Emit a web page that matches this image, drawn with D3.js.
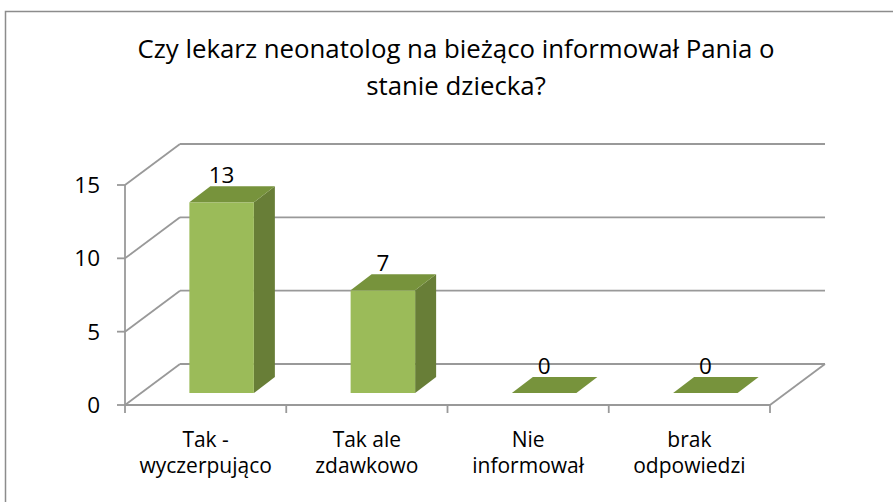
<!DOCTYPE html>
<html><head><meta charset="utf-8">
<script src="https://cdn.jsdelivr.net/npm/d3@7"></script>
<style>body{margin:0;background:#fff}svg{display:block}text{font-family:"Open Sans",sans-serif;fill:#000}</style>
</head><body>
<svg id="c" width="893" height="502"></svg>
<script>
const titleLines = ["Czy lekarz neonatolog na bieżąco informował Pania o", "stanie dziecka?"];
const categories = ["Tak - wyczerpująco", "Tak ale zdawkowo", "Nie informował", "brak odpowiedzi"];
const categoryLines = [["Tak -", "wyczerpująco"], ["Tak ale", "zdawkowo"], ["Nie", "informował"], ["brak", "odpowiedzi"]];
const values = [13, 7, 0, 0];
const yTicks = [0, 5, 10, 15];

const svg = d3.select("#c");
const gridColor = "#999999";
// 3D geometry
const wallDX = 55, wallDY = -41;   // depth of the floor/back wall
const barOffX = 16, barOffY = -12;  // bar front plane offset
const barDX = 21, barDY = -16;      // bar depth

const x = d3.scaleBand().domain(categories).range([125, 770]).paddingInner(0).paddingOuter(0);
const y = d3.scaleLinear().domain([0, 15]).range([405, 185]);

// frame
svg.append("rect").attr("x", 5.5).attr("y", 11.5).attr("width", 1000).attr("height", 1000)
  .attr("fill", "none").attr("stroke", "#8c8c8c").attr("stroke-width", 1.5);

// title
const title = svg.append("g");
titleLines.forEach((t, i) => {
  title.append("text").attr("x", 456).attr("y", 58 + i * 37).attr("text-anchor", "middle")
    .attr("font-size", 25.8).text(t);
});

const grid = svg.append("g").attr("stroke", gridColor).attr("stroke-width", 1.8).attr("fill", "none");
// back wall gridlines and side wall diagonals
yTicks.forEach(t => {
  const yy = y(t);
  grid.append("line").attr("x1", x.range()[0] + wallDX).attr("x2", x.range()[1] + wallDX)
    .attr("y1", yy + wallDY).attr("y2", yy + wallDY);
  grid.append("line").attr("x1", x.range()[0]).attr("x2", x.range()[0] + wallDX)
    .attr("y1", yy).attr("y2", yy + wallDY);
});
// floor front line and right diagonal
grid.append("line").attr("x1", x.range()[0]).attr("x2", x.range()[1]).attr("y1", y(0)).attr("y2", y(0));
grid.append("line").attr("x1", x.range()[1]).attr("x2", x.range()[1] + wallDX).attr("y1", y(0)).attr("y2", y(0) + wallDY);
// y axis line
grid.append("line").attr("x1", x.range()[0]).attr("x2", x.range()[0]).attr("y1", y(15)).attr("y2", y(0));
// y ticks
yTicks.forEach(t => {
  grid.append("line").attr("x1", x.range()[0] - 8).attr("x2", x.range()[0]).attr("y1", y(t)).attr("y2", y(t));
});
// category ticks
const edges = categories.map(c => x(c)).concat([x.range()[1]]);
edges.forEach(e => {
  grid.append("line").attr("x1", e).attr("x2", e).attr("y1", y(0)).attr("y2", y(0) + 8);
});

// y tick labels
svg.append("g").selectAll("text").data(yTicks).join("text")
  .attr("x", 100).attr("y", d => y(d)).attr("dy", "0.36em").attr("text-anchor", "end")
  .attr("font-size", 22.5).text(d => d);

// bars
const bw = x.bandwidth() * 0.4;
const bars = svg.append("g");
categories.forEach((c, i) => {
  const v = values[i];
  const cx = x(c) + x.bandwidth() / 2 + barOffX;
  const xl = cx - bw / 2, xr = cx + bw / 2;
  const yb = y(0) + barOffY, yt = y(v) + barOffY;
  const g = bars.append("g");
  if (v > 0) {
    g.append("path").attr("fill", "#687e37")
      .attr("d", `M${xr},${yb}L${xr + barDX},${yb + barDY}L${xr + barDX},${yt + barDY}L${xr},${yt}Z`);
    g.append("rect").attr("x", xl).attr("y", yt).attr("width", bw).attr("height", yb - yt).attr("fill", "#9bbb59");
  }
  g.append("path").attr("fill", "#77933c")
    .attr("d", `M${xl},${yt}L${xr},${yt}L${xr + barDX},${yt + barDY}L${xl + barDX},${yt + barDY}Z`);
  g.append("text").attr("x", cx).attr("y", yt + barDY - 3).attr("text-anchor", "middle")
    .attr("font-size", 22.5).text(v);
});

// category labels
const cl = svg.append("g");
categories.forEach((c, i) => {
  categoryLines[i].forEach((ln, j) => {
    cl.append("text").attr("x", x(c) + x.bandwidth() / 2).attr("y", 447 + j * 26)
      .attr("text-anchor", "middle").attr("font-size", 21).text(ln);
  });
});
</script>
</body></html>
